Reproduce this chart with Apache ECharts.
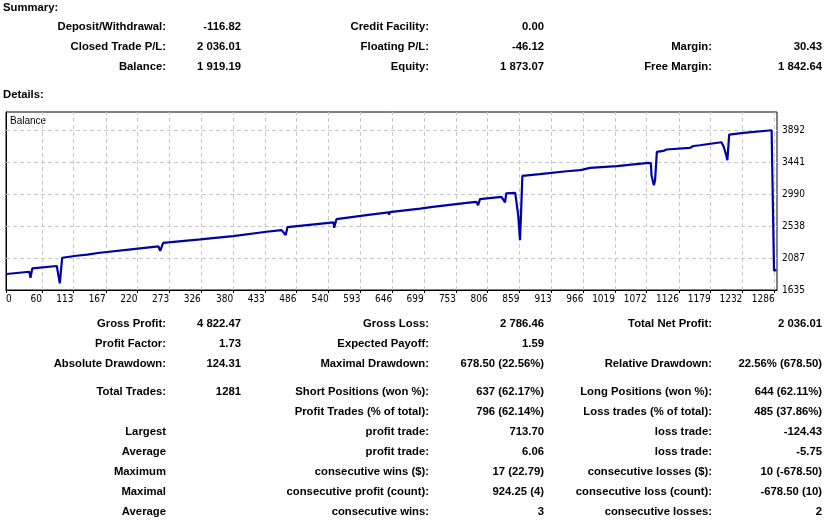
<!DOCTYPE html>
<html><head><meta charset="utf-8">
<script src="https://cdn.jsdelivr.net/npm/echarts@6.0.0/dist/echarts.min.js"></script>
<style>html,body{margin:0;padding:0;background:#fff}#c{width:827px;height:520px}</style>
</head><body><div id="c"></div>
<script>
// Balance curve (trade number -> balance)
const tradeIndex = [1, 39, 41, 44, 85, 88, 90, 94, 118, 136, 137, 139, 157, 213, 255, 258, 263, 325, 380, 436, 461, 468, 471, 548, 549, 553, 603, 640, 641, 642, 693, 714, 771, 787, 790, 793, 829, 835, 837, 852, 854, 857, 860, 861, 864, 893, 938, 960, 963, 965, 977, 1022, 1075, 1079, 1080, 1084, 1086, 1089, 1100, 1105, 1144, 1145, 1150, 1161, 1162, 1164, 1197, 1201, 1205, 1207, 1210, 1234, 1281, 1283, 1285, 1289];
const balance = [1861, 1893, 1809, 1941, 1974, 1960, 1729, 2091, 2119, 2135, 2110, 2140, 2161, 2213, 2251, 2189, 2302, 2350, 2397, 2458, 2481, 2411, 2524, 2590, 2514, 2637, 2693, 2731, 2700, 2735, 2785, 2810, 2867, 2881, 2834, 2919, 2951, 2872, 2999, 3008, 2881, 2693, 2340, 2552, 3247, 3271, 3313, 3328, 3300, 3335, 3360, 3384, 3431, 3425, 3257, 3116, 3187, 3586, 3600, 3620, 3642, 3625, 3670, 3680, 3660, 3699, 3723, 3656, 3539, 3469, 3831, 3854, 3892, 3906, 1907, 1919];
const xTickValues = [0, 60, 113, 167, 220, 273, 326, 380, 433, 486, 540, 593, 646, 699, 753, 806, 859, 913, 966, 1019, 1072, 1126, 1179, 1232, 1286];
const yTickValues = [1635, 2087, 2538, 2990, 3441, 3892];

// Report tables: [label1, value1, label2, value2, label3, value3]
const summaryRows = [
  ["Deposit/Withdrawal:", "-116.82", "Credit Facility:", "0.00", "", ""],
  ["Closed Trade P/L:", "2 036.01", "Floating P/L:", "-46.12", "Margin:", "30.43"],
  ["Balance:", "1 919.19", "Equity:", "1 873.07", "Free Margin:", "1 842.64"]
];
const detailRows = [
  ["Gross Profit:", "4 822.47", "Gross Loss:", "2 786.46", "Total Net Profit:", "2 036.01"],
  ["Profit Factor:", "1.73", "Expected Payoff:", "1.59", "", ""],
  ["Absolute Drawdown:", "124.31", "Maximal Drawdown:", "678.50 (22.56%)", "Relative Drawdown:", "22.56% (678.50)"],
  ["Total Trades:", "1281", "Short Positions (won %):", "637 (62.17%)", "Long Positions (won %):", "644 (62.11%)"],
  ["", "", "Profit Trades (% of total):", "796 (62.14%)", "Loss trades (% of total):", "485 (37.86%)"],
  ["Largest", "", "profit trade:", "713.70", "loss trade:", "-124.43"],
  ["Average", "", "profit trade:", "6.06", "loss trade:", "-5.75"],
  ["Maximum", "", "consecutive wins ($):", "17 (22.79)", "consecutive losses ($):", "10 (-678.50)"],
  ["Maximal", "", "consecutive profit (count):", "924.25 (4)", "consecutive loss (count):", "-678.50 (10)"],
  ["Average", "", "consecutive wins:", "3", "consecutive losses:", "2"]
];

const summaryY = [27, 47, 67];
const detailY = [324, 344, 364, 392, 412, 432, 452, 472, 492, 512];
const colRight = [166, 241, 429, 544, 712, 822];
const boldFont = 'bold 11.3px "Liberation Sans", Arial, sans-serif';
const axisFont = '"Liberation Sans Narrow", "DejaVu Sans Condensed", sans-serif';

const graphics = [];
function txt(s, x, y, align, font) {
  if (!s) return;
  graphics.push({type: 'text', x: x, y: y, silent: true,
    style: {text: s, fill: '#000', font: font || boldFont, align: align || 'right', verticalAlign: 'middle'}});
}
txt('Summary:', 3, 8, 'left');
txt('Details:', 3, 95, 'left');
summaryRows.forEach((r, i) => r.forEach((s, j) => txt(s, colRight[j], summaryY[i])));
detailRows.forEach((r, i) => r.forEach((s, j) => txt(s, colRight[j], detailY[i])));
txt('Balance', 10, 121, 'left', 'normal 10px "Liberation Sans", Arial, sans-serif');

const gridLineStyle = {color: '#c8c8c8', type: [4, 3], width: 1};
const plain = v => String(v);

const chart = echarts.init(document.getElementById('c'), null, {renderer: 'canvas'});
chart.setOption({
  animation: false,
  backgroundColor: '#fff',
  grid: {left: 6, right: 50, top: 112, bottom: 230, show: true, borderColor: '#000', borderWidth: 1, backgroundColor: '#fff', containLabel: false},
  xAxis: {
    type: 'value', min: 0, max: 1290,
    axisLine: {show: true, lineStyle: {color: '#000', width: 1}},
    axisTick: {show: true, customValues: xTickValues, length: 3, lineStyle: {color: '#000'}},
    axisLabel: {customValues: xTickValues, formatter: plain, color: '#000', fontSize: 10, fontFamily: axisFont, align: 'right', margin: 4, alignMinLabel: 'left'},
    splitLine: {show: false}
  },
  yAxis: {
    type: 'value', position: 'right', min: 1635, max: 4150,
    axisLine: {show: true, lineStyle: {color: '#000', width: 1}},
    axisTick: {show: true, customValues: yTickValues, length: 2, lineStyle: {color: '#000'}},
    axisLabel: {customValues: yTickValues, formatter: plain, color: '#000', fontSize: 10, fontFamily: axisFont, margin: 5},
    splitLine: {show: false}
  },
  series: [{
    type: 'line', data: [], z: 1, silent: true,
    markLine: {
      z: 1, silent: true, symbol: ['none', 'none'], label: {show: false}, lineStyle: gridLineStyle,
      emphasis: {disabled: true},
      data: xTickValues.slice(1).map(v => ({xAxis: v})).concat(yTickValues.slice(1).map(v => ({yAxis: v})))
    }
  }, {
    type: 'line', symbol: 'none', silent: true, z: 6,
    data: tradeIndex.map((x, i) => [x, balance[i]]),
    lineStyle: {color: '#0000a8', width: 2.2}
  }],
  graphic: graphics
});
</script>
</body></html>
